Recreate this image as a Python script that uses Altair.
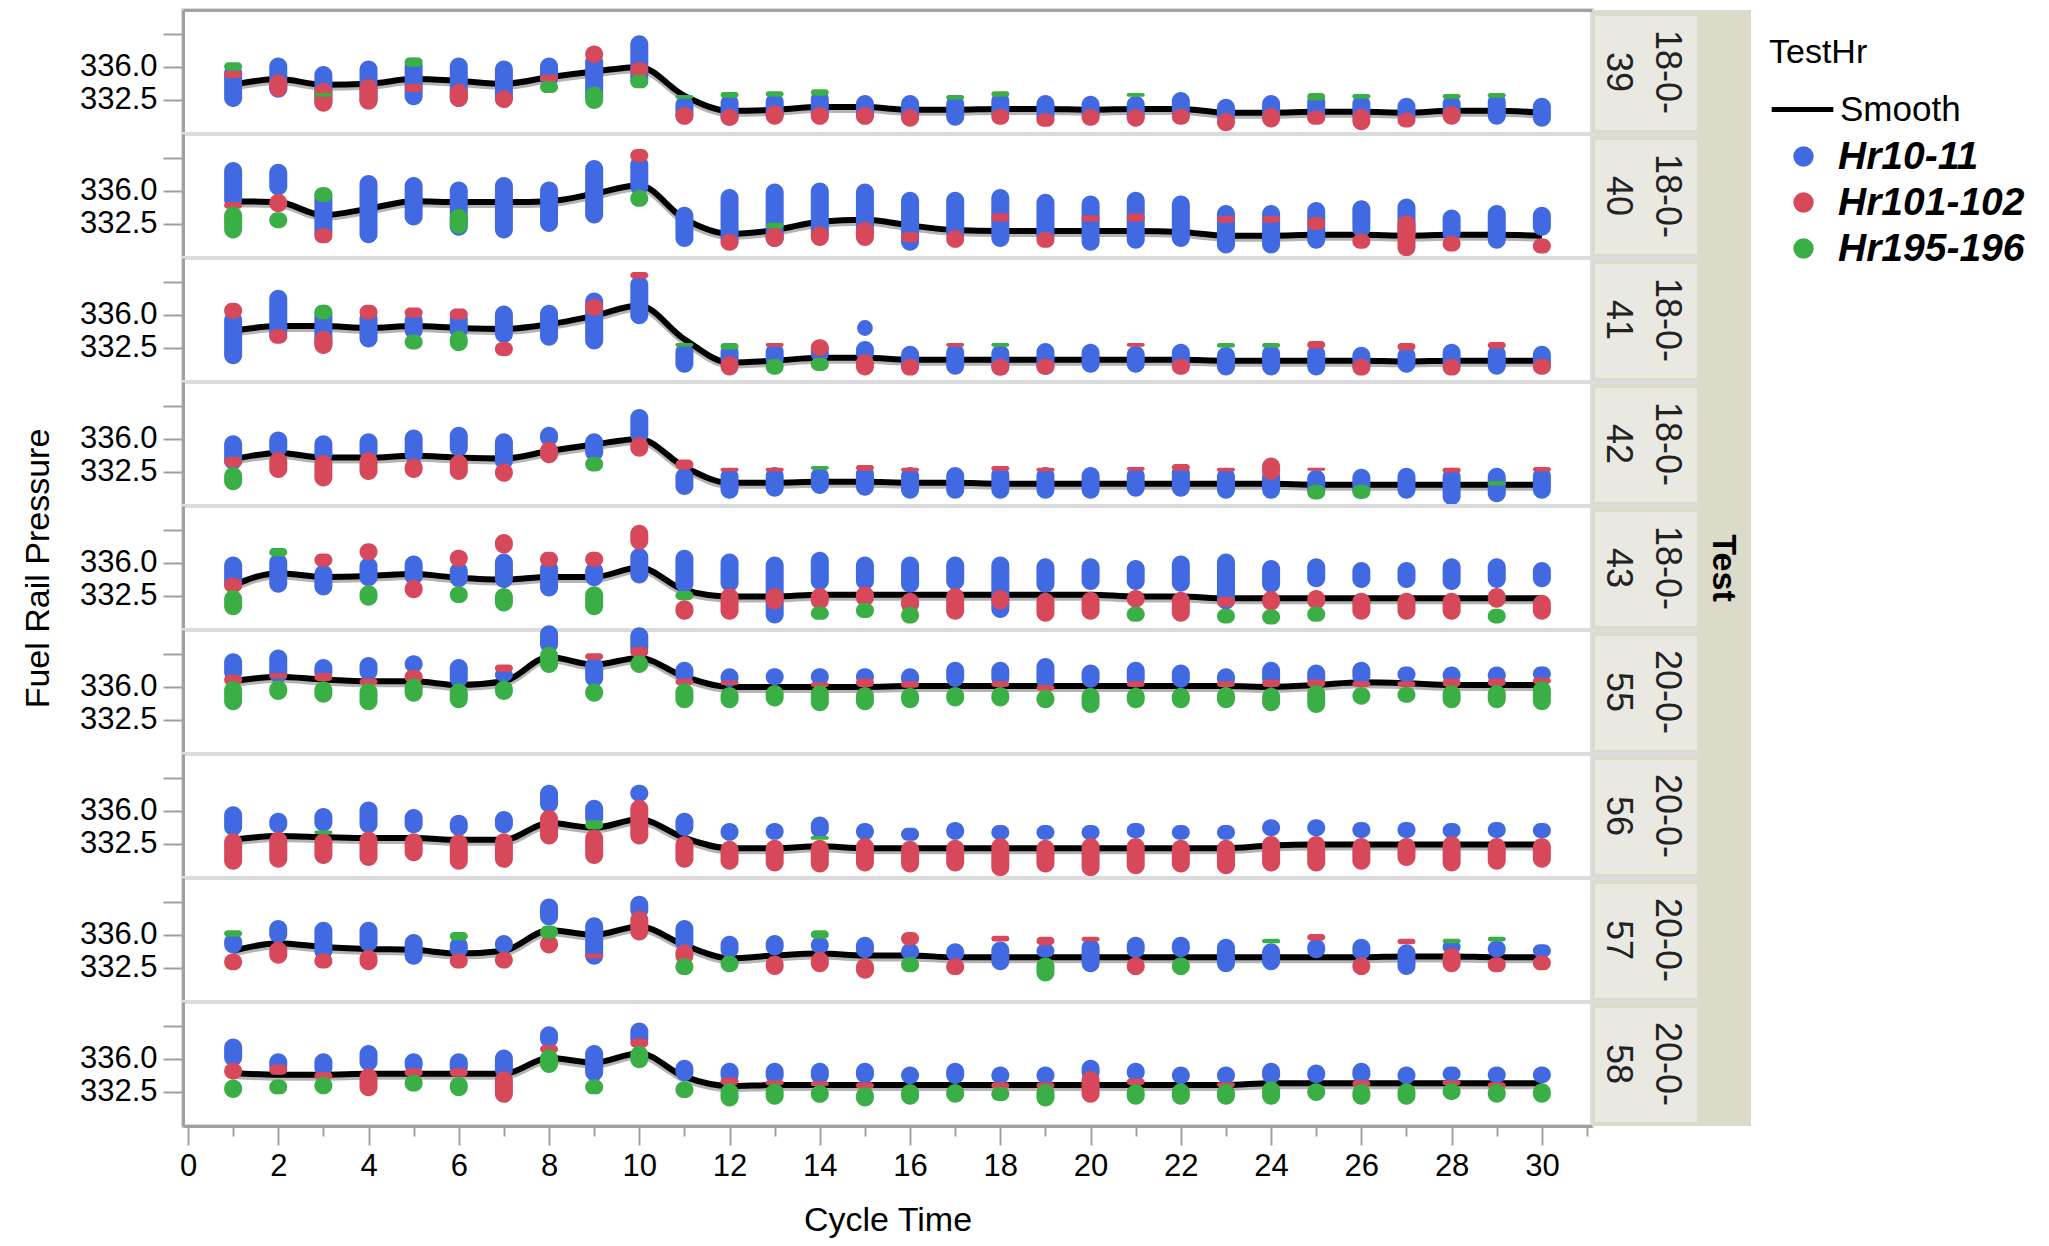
import altair as alt
import pandas as pd

FONT = "Liberation Sans"
GREY = "#A0A0A0"
SEP = "#DCDCDC"
DARK = "#DCDAC9"
LIGHT = "#E9E8E1"

TESTS = ["18-0-39", "18-0-40", "18-0-41", "18-0-42", "18-0-43",
         "20-0-55", "20-0-56", "20-0-57", "20-0-58"]
CYCLES = list(range(1, 31))
SERIES = ["Hr10-11", "Hr101-102", "Hr195-196"]
SERIES_COLORS = ["#4169E1", "#D6485A", "#3AAF45"]
X_TICKS = list(range(0, 32))
Y_TICKS = [332.5, 336.0, 339.5]

# ---------------- 18-0-39 ----------------
SMOOTH_39 = [334.1, 334.7, 334.1, 334.2, 334.7, 334.5, 334.2, 334.9, 335.5, 336.0,
             332.9, 331.3, 331.4, 331.7, 331.7, 331.4, 331.4, 331.5, 331.5, 331.4,
             331.5, 331.5, 331.1, 331.1, 331.2, 331.2, 331.1, 331.3, 331.3, 331.1]
BLUE_39 = [(331.7, 336.3), (332.7, 337.0), (331.3, 336.1), (331.5, 336.7), (331.9, 337.0),
           (331.7, 337.0), (331.7, 336.7), (333.8, 337.0), (332.0, 337.5), (333.8, 339.4),
           (329.9, 332.9), (329.7, 333.1), (329.9, 333.2), (329.9, 333.5), (329.9, 333.0),
           (329.7, 333.0), (329.7, 333.0), (330.1, 333.3), (329.7, 333.0), (329.9, 332.9),
           (329.8, 332.9), (330.1, 333.3), (329.8, 332.6), (329.7, 333.0), (329.9, 333.2),
           (329.9, 333.0), (329.8, 332.7), (329.9, 333.0), (329.8, 333.2), (329.6, 332.7)]
RED_39 = [(334.8, 335.6), (332.8, 335.2), (331.2, 334.3), (331.4, 334.7), (333.3, 334.2),
          (331.7, 334.2), (331.6, 333.5), (334.4, 335.2), (336.4, 338.3), (334.9, 336.5),
          (329.8, 331.7), (329.7, 331.5), (329.8, 331.9), (329.8, 331.7), (329.8, 331.7),
          (329.6, 331.5), None, (329.8, 331.5), (329.6, 331.0), (329.7, 331.5),
          (329.6, 331.5), (329.8, 331.5), (329.1, 331.1), (329.5, 331.6), (329.8, 331.3),
          (329.2, 331.5), (329.5, 331.1), (329.8, 331.8), None, None]
GREEN_39 = [(335.6, 336.5), None, (332.8, 333.2), None, (336.0, 337.0),
            None, None, (333.2, 334.5), (331.5, 333.9), (333.7, 335.2),
            (332.6, 333.0), (332.7, 333.3), (332.8, 333.4), (332.9, 333.6), None,
            None, (332.5, 333.0), (332.8, 333.4), None, None,
            (332.8, 333.2), None, None, None, (332.4, 333.2),
            (332.6, 333.1), None, (332.6, 333.1), (332.7, 333.2), None]

# ---------------- 18-0-40 ----------------
SMOOTH_40 = [334.9, 334.8, 333.4, 334.1, 334.9, 334.8, 334.8, 334.9, 335.7, 336.6,
             333.0, 331.4, 331.8, 332.7, 332.9, 332.3, 331.8, 331.7, 331.7, 331.7,
             331.7, 331.6, 331.2, 331.2, 331.3, 331.3, 331.2, 331.3, 331.3, 331.2]
BLUE_40 = [(334.1, 339.1), (335.5, 338.9), (330.5, 336.4), (330.4, 337.7), (332.3, 337.5),
           (331.2, 337.0), (330.9, 337.5), (331.6, 337.0), (332.5, 339.3), (335.5, 339.8),
           (330.0, 334.3), (329.8, 336.2), (330.0, 336.8), (330.4, 336.9), (330.4, 336.8),
           (329.6, 335.9), (330.5, 335.9), (330.0, 336.2), (330.2, 335.7), (329.6, 335.5),
           (329.8, 335.9), (330.0, 335.5), (329.3, 334.5), (329.3, 334.5), (329.8, 334.8),
           (331.0, 335.0), (330.5, 335.2), (330.5, 334.0), (329.8, 334.5), (331.2, 334.3)]
RED_40 = [(334.1, 334.8), (333.7, 335.7), (330.4, 332.0), None, None,
          None, None, None, None, (339.1, 340.5),
          None, (329.6, 331.4), (330.0, 332.1), (330.1, 332.2), (330.1, 332.7),
          (330.5, 331.6), (329.9, 331.8), (332.7, 333.6), (329.9, 331.6), (332.7, 333.4),
          (332.7, 333.6), None, (332.6, 333.3), (332.6, 333.3), (331.8, 333.2),
          (329.8, 331.4), (329.0, 333.4), (329.5, 331.2), None, (329.3, 330.9)]
GREEN_40 = [(330.9, 334.3), (332.0, 333.7), (334.8, 336.4), None, None,
            (331.4, 334.1), None, None, None, (334.3, 336.1),
            None, None, (332.0, 332.6), None, None,
            None, None, None, None, None,
            None, None, None, None, None,
            None, None, None, None, None]

# ---------------- 18-0-41 ----------------
SMOOTH_41 = [334.3, 334.8, 334.8, 334.6, 334.8, 334.6, 334.5, 335.0, 335.9, 337.0,
             333.4, 330.9, 331.1, 331.4, 331.4, 331.2, 331.2, 331.2, 331.2, 331.2,
             331.2, 331.2, 331.1, 331.1, 331.1, 331.1, 331.0, 331.1, 331.1, 331.1]
BLUE_41 = [(330.7, 336.4), (333.0, 338.7), (332.0, 337.1), (332.5, 336.6), (333.4, 336.4),
           (333.4, 336.5), (333.0, 337.0), (332.7, 337.1), (332.3, 338.4), (335.0, 340.2),
           (329.8, 333.0), (330.2, 333.0), (330.3, 333.0), (330.9, 333.2), (331.0, 333.2),
           (329.6, 332.7), (329.6, 332.9), (329.5, 332.8), (329.6, 333.0), (329.8, 332.9),
           (329.8, 332.7), (329.7, 332.9), (329.5, 332.6), (329.5, 332.8), (329.5, 332.8),
           (329.6, 332.6), (329.8, 332.6), (329.8, 332.9), (329.6, 332.8), (329.8, 332.7)]
RED_41 = [(335.6, 337.3), (332.9, 334.5), (331.8, 334.3), (335.5, 337.1), (335.7, 336.8),
          (335.5, 336.7), (331.6, 333.1), None, (335.9, 337.7), (339.9, 340.6),
          None, (329.5, 331.6), (332.6, 333.0), (331.6, 333.4), (329.5, 331.8),
          (329.5, 331.3), (332.6, 333.0), (329.5, 331.3), (329.6, 331.3), None,
          (332.6, 333.0), (329.6, 331.3), None, None, (332.4, 333.2),
          (329.5, 331.3), (332.2, 333.0), (329.5, 331.3), (332.4, 333.1), (329.6, 331.3)]
GREEN_41 = [None, None, (335.5, 337.1), None, (332.3, 333.9),
            (332.1, 334.3), None, None, None, None,
            (332.6, 333.0), (332.3, 333.0), (329.6, 331.3), (330.0, 331.4), None,
            None, None, (332.6, 333.0), None, None,
            None, None, (332.5, 333.0), (332.5, 333.0), None,
            None, None, None, None, None]

# ---------------- 18-0-42 ----------------
SMOOTH_42 = [333.8, 334.5, 334.0, 334.0, 334.2, 334.0, 333.9, 334.7, 335.4, 336.0,
             333.0, 331.3, 331.3, 331.4, 331.4, 331.3, 331.3, 331.2, 331.2, 331.2,
             331.2, 331.2, 331.2, 331.2, 331.1, 331.1, 331.1, 331.1, 331.1, 331.1]
BLUE_42 = [(332.7, 336.4), (334.1, 336.8), (333.4, 336.4), (333.7, 336.6), (333.4, 337.0),
           (334.1, 337.3), (332.7, 336.6), (335.2, 337.3), (333.6, 336.6), (335.5, 339.2),
           (330.0, 332.9), (329.6, 332.9), (329.8, 333.0), (330.1, 333.0), (329.9, 333.2),
           (329.6, 333.0), (329.6, 333.0), (329.6, 333.1), (329.6, 333.0), (329.6, 333.0),
           (329.8, 333.0), (329.8, 333.3), (329.6, 332.9), (329.6, 332.9), (329.6, 332.7),
           (329.6, 332.8), (329.6, 332.9), (328.9, 332.9), (329.2, 332.9), (329.6, 333.0)]
RED_42 = [(333.0, 334.1), (331.8, 334.6), (330.9, 334.3), (331.6, 334.6), (331.8, 333.9),
          (331.6, 334.3), (331.4, 333.4), (333.4, 335.7), None, (334.1, 336.2),
          (332.7, 333.8), (332.5, 332.9), (332.5, 332.9), None, (332.6, 333.2),
          (332.5, 332.9), None, (332.6, 333.1), (332.5, 332.9), None,
          (332.6, 333.0), (332.6, 333.3), (332.5, 332.9), (331.6, 334.0), (332.6, 332.9),
          None, None, (332.4, 332.9), None, (332.5, 333.0)]
GREEN_42 = [(330.5, 333.0), None, None, None, None,
            None, None, None, (332.5, 334.1), None,
            None, None, None, (332.7, 333.1), None,
            None, None, None, None, None,
            None, None, None, None, (329.5, 331.1),
            (329.6, 331.1), None, None, (331.0, 331.5), None]

# ---------------- 18-0-43 ----------------
SMOOTH_43 = [333.6, 334.9, 334.5, 334.6, 334.8, 334.4, 334.2, 334.5, 334.5, 335.5,
             333.1, 332.4, 332.4, 332.6, 332.6, 332.6, 332.6, 332.6, 332.6, 332.6,
             332.4, 332.4, 332.2, 332.2, 332.2, 332.2, 332.2, 332.2, 332.2, 332.2]
BLUE_43 = [(332.8, 336.7), (332.8, 337.0), (332.5, 335.8), (333.5, 336.6), (333.6, 336.8),
           (333.4, 336.1), (333.3, 337.0), (332.4, 336.3), (333.5, 336.1), (333.8, 337.6),
           (332.8, 337.4), (332.9, 337.0), (329.5, 336.7), (333.1, 337.2), (333.1, 336.7),
           (332.8, 336.7), (333.1, 336.7), (330.1, 336.7), (332.8, 336.5), (333.1, 336.5),
           (333.1, 336.3), (332.9, 336.8), (331.0, 337.0), (332.8, 336.3), (333.4, 336.5),
           (333.3, 336.1), (333.3, 336.1), (333.1, 336.5), (333.3, 336.5), (333.4, 336.1)]
RED_43 = [(332.8, 334.4), None, (335.6, 337.0), (336.3, 338.1), (332.2, 334.2),
          (335.6, 337.4), (337.0, 339.1), (335.6, 337.2), (335.6, 337.2), (337.4, 340.1),
          (329.9, 332.0), (329.9, 333.3), (331.0, 333.3), (331.0, 333.3), (331.3, 333.5),
          (330.6, 332.8), (329.9, 333.3), (331.0, 333.1), (329.7, 332.8), (329.9, 332.9),
          (331.2, 333.1), (329.7, 332.9), (331.3, 332.4), (330.9, 333.0), (331.0, 333.1),
          (329.9, 332.8), (329.9, 332.8), (329.9, 332.8), (331.2, 333.3), (329.9, 332.6)]
GREEN_43 = [(330.4, 333.1), (336.7, 337.6), None, (331.4, 333.6), None,
            (331.7, 333.5), (330.8, 333.3), None, (330.4, 333.5), None,
            (332.0, 333.0), None, None, (329.9, 331.3), (330.1, 331.7),
            (329.5, 331.3), None, None, None, None,
            (329.7, 331.3), None, (329.5, 331.1), (329.4, 331.0), (329.7, 331.3),
            None, None, None, (329.5, 331.1), None]

# ---------------- 20-0-55 ----------------
SMOOTH_55 = [336.6, 337.1, 336.8, 336.6, 336.6, 336.2, 336.6, 339.2, 338.4, 339.1,
             337.1, 336.0, 336.0, 336.0, 336.0, 336.1, 336.1, 336.1, 336.1, 336.1,
             336.1, 336.1, 336.1, 336.0, 336.2, 336.5, 336.4, 336.2, 336.2, 336.2]
BLUE_55 = [(336.6, 339.6), (336.4, 340.0), (336.6, 339.0), (336.7, 339.2), (337.5, 339.4),
           (335.9, 339.0), (336.6, 338.0), (339.6, 342.6), (336.0, 339.2), (339.2, 342.4),
           (336.4, 338.7), (336.0, 338.0), (336.2, 338.0), (336.2, 338.0), (336.2, 338.0),
           (335.9, 338.0), (336.0, 338.7), (336.0, 338.7), (335.7, 339.1), (335.9, 338.4),
           (335.9, 338.7), (335.9, 338.4), (335.9, 338.0), (335.9, 338.7), (335.9, 338.4),
           (336.2, 338.7), (336.5, 338.2), (336.3, 338.2), (336.3, 338.2), (336.6, 338.2)]
RED_55 = [(336.2, 337.3), (336.9, 337.5), (336.6, 337.5), (336.2, 336.9), (336.4, 337.8),
          None, (337.6, 338.4), None, (338.9, 339.6), (339.2, 340.3),
          (336.2, 336.9), (336.2, 336.7), None, (336.0, 336.5), (336.0, 336.9),
          (335.9, 336.6), None, (336.0, 336.6), (335.6, 336.2), None,
          (336.0, 336.6), None, (336.0, 336.6), (336.0, 336.8), (336.0, 336.8),
          (336.0, 336.6), (336.0, 336.6), (336.0, 336.9), (336.1, 336.9), (336.3, 337.0)]
GREEN_55 = [(333.5, 336.6), (334.6, 336.7), (334.3, 336.6), (333.5, 336.4), (334.4, 336.9),
            (333.7, 336.4), (334.6, 336.7), (337.5, 340.3), (334.4, 336.4), (337.5, 339.4),
            (333.7, 336.4), (333.7, 336.0), (333.9, 336.2), (333.4, 336.2), (333.5, 336.0),
            (333.7, 335.9), (333.9, 336.0), (333.9, 336.0), (333.7, 335.7), (333.2, 335.9),
            (333.7, 335.9), (333.7, 335.9), (333.7, 336.0), (333.4, 335.9), (333.2, 336.2),
            (334.1, 336.0), (334.3, 336.0), (333.7, 336.2), (333.7, 336.2), (333.5, 336.6)]

# ---------------- 20-0-56 ----------------
SMOOTH_56 = [332.9, 333.3, 333.2, 333.1, 333.1, 332.9, 332.9, 334.7, 334.2, 335.1,
             333.1, 332.0, 332.0, 332.2, 332.0, 332.0, 332.0, 332.0, 332.0, 332.0,
             332.0, 332.0, 332.0, 332.3, 332.4, 332.4, 332.4, 332.4, 332.4, 332.4]
BLUE_56 = [(333.3, 336.5), (333.6, 335.8), (333.8, 336.3), (333.6, 337.0), (333.6, 336.2),
           (333.3, 335.6), (333.6, 336.0), (335.8, 338.8), (334.3, 337.2), (337.0, 338.8),
           (333.3, 335.8), (332.8, 334.7), (332.9, 334.7), (333.1, 335.4), (332.9, 334.7),
           (332.8, 334.2), (332.9, 334.8), (332.9, 334.5), (332.9, 334.5), (332.9, 334.5),
           (333.1, 334.7), (332.9, 334.5), (332.9, 334.5), (333.3, 335.1), (333.3, 335.1),
           (333.1, 334.8), (333.1, 334.8), (333.1, 334.7), (333.1, 334.8), (333.1, 334.7)]
RED_56 = [(329.7, 333.6), (329.9, 333.8), (330.3, 333.6), (330.1, 333.8), (330.6, 333.6),
          (329.7, 333.5), (329.9, 333.6), (332.4, 336.1), (330.3, 334.0), (332.4, 337.2),
          (329.9, 333.3), (329.7, 332.8), (329.5, 332.9), (329.4, 332.9), (329.5, 333.1),
          (329.4, 332.8), (329.5, 332.9), (329.0, 333.1), (329.4, 332.9), (329.0, 333.1),
          (329.2, 333.1), (329.4, 332.9), (329.2, 332.9), (329.5, 333.3), (329.5, 333.3),
          (329.7, 333.1), (330.1, 333.1), (329.5, 333.3), (329.7, 333.1), (329.9, 333.1)]
GREEN_56 = [None, None, (333.5, 333.9), None, None,
            None, None, None, (334.0, 335.0), None,
            None, None, None, (332.9, 333.3), None,
            None, None, None, None, None,
            None, None, None, None, None,
            None, None, None, None, None]

# ---------------- 20-0-57 ----------------
SMOOTH_57 = [334.3, 335.1, 334.7, 334.5, 334.4, 334.0, 334.3, 336.5, 336.0, 336.9,
             334.9, 333.5, 333.8, 334.0, 333.8, 333.8, 333.6, 333.6, 333.6, 333.6,
             333.6, 333.6, 333.6, 333.6, 333.6, 333.6, 333.7, 333.7, 333.6, 333.6]
BLUE_57 = [(334.0, 336.2), (335.1, 337.6), (333.3, 337.4), (334.2, 337.4), (332.8, 336.1),
           (333.5, 335.8), (334.0, 336.0), (337.0, 339.9), (332.8, 337.9), (337.7, 340.2),
           (334.2, 337.6), (333.5, 335.9), (333.8, 336.0), (334.0, 335.8), (333.5, 335.8),
           (333.3, 335.1), (333.1, 335.1), (332.2, 335.3), (333.6, 335.0), (332.0, 335.6),
           (333.5, 335.8), (333.6, 335.8), (332.0, 335.6), (332.2, 335.1), (333.5, 335.6),
           (333.3, 335.6), (331.7, 335.0), (334.0, 335.4), (333.6, 335.4), (333.6, 335.0)]
RED_57 = [(332.2, 334.0), (332.9, 335.3), (332.4, 334.0), (332.2, 334.4), None,
          (332.4, 334.0), (332.4, 334.2), (334.0, 336.0), (333.5, 334.0), (335.4, 338.6),
          (332.8, 335.0), None, (331.7, 333.8), (332.0, 334.2), (331.3, 333.5),
          (334.9, 336.3), (331.7, 333.5), (335.3, 335.9), (334.9, 335.8), (335.3, 335.8),
          (331.7, 333.6), None, None, None, (335.4, 336.1),
          (331.7, 333.6), (335.0, 335.6), (332.0, 334.6), (332.0, 333.6), (332.2, 333.8)]
GREEN_57 = [(335.8, 336.5), None, None, None, None,
            (335.4, 336.3), None, (335.6, 337.0), None, None,
            (331.7, 333.5), (332.0, 333.8), None, (335.6, 336.5), None,
            (332.0, 333.6), None, None, (331.0, 333.6), None,
            None, (331.7, 333.6), None, (335.1, 335.6), None,
            None, None, (335.1, 335.6), (335.3, 335.8), None]

# ---------------- 20-0-58 ----------------
SMOOTH_58 = [334.5, 334.3, 334.3, 334.4, 334.4, 334.4, 334.4, 336.1, 335.6, 336.6,
             334.1, 333.1, 333.2, 333.2, 333.2, 333.2, 333.2, 333.2, 333.2, 333.2,
             333.2, 333.2, 333.2, 333.4, 333.4, 333.4, 333.4, 333.4, 333.4, 333.4]
BLUE_58 = [(335.2, 338.2), (334.3, 336.6), (334.1, 336.6), (334.7, 337.5), (334.4, 336.6),
           (334.1, 336.6), (333.9, 337.0), (337.2, 339.5), (333.6, 337.5), (337.2, 339.9),
           (333.6, 335.9), (333.3, 335.6), (333.3, 335.6), (333.3, 335.6), (333.4, 335.6),
           (333.3, 335.2), (333.3, 335.6), (333.3, 335.2), (333.3, 335.2), (333.6, 335.9),
           (333.6, 335.6), (333.3, 335.2), (333.3, 335.2), (333.3, 335.6), (333.4, 335.4),
           (333.4, 335.6), (333.3, 335.2), (333.6, 335.2), (333.4, 335.2), (333.4, 335.2)]
RED_58 = [(333.8, 335.6), (334.3, 335.4), (333.8, 334.6), (332.0, 335.0), (334.1, 335.0),
          (334.1, 335.0), (331.3, 334.7), (336.6, 337.5), None, (337.2, 338.2),
          None, (333.2, 334.0), (333.2, 333.7), (333.1, 333.6), (332.8, 333.5),
          None, None, (332.8, 333.5), (332.8, 333.5), (331.3, 334.7),
          (333.2, 333.9), None, (333.0, 333.5), None, None,
          (333.0, 333.7), None, (333.2, 333.7), (332.8, 333.5), None]
GREEN_58 = [(331.8, 333.8), (332.2, 333.8), (332.2, 334.1), None, (332.5, 334.3),
            (332.0, 334.1), None, (334.5, 337.0), (332.2, 333.8), (335.0, 337.4),
            (331.8, 333.6), (330.9, 333.4), (331.1, 333.4), (331.3, 333.2), (330.9, 333.0),
            (331.1, 333.3), (331.3, 333.3), (331.5, 333.0), (330.9, 333.3), None,
            (331.1, 333.3), (331.1, 333.4), (331.1, 333.3), (331.1, 333.6), (331.5, 333.4),
            (331.1, 333.3), (331.1, 333.4), (331.6, 333.4), (331.3, 333.3), (331.3, 333.4)]

# isolated single point
OUTLIER_TESTS = ["18-0-41"]
OUTLIER_CYCLES = [15]
OUTLIER_VALUES = [334.6]

SMOOTH = [SMOOTH_39, SMOOTH_40, SMOOTH_41, SMOOTH_42, SMOOTH_43,
          SMOOTH_55, SMOOTH_56, SMOOTH_57, SMOOTH_58]
RANGES = [(BLUE_39, RED_39, GREEN_39), (BLUE_40, RED_40, GREEN_40),
          (BLUE_41, RED_41, GREEN_41), (BLUE_42, RED_42, GREEN_42),
          (BLUE_43, RED_43, GREEN_43), (BLUE_55, RED_55, GREEN_55),
          (BLUE_56, RED_56, GREEN_56), (BLUE_57, RED_57, GREEN_57),
          (BLUE_58, RED_58, GREEN_58)]

blob_rows = []
line_rows = []
for t, sm, rg in zip(TESTS, SMOOTH, RANGES):
    for c, v in zip(CYCLES, sm):
        line_rows.append({"test": t, "cycle": c, "value": v, "label": "Smooth"})
    for s_name, s_ranges in zip(SERIES, rg):
        for c, r in zip(CYCLES, s_ranges):
            if r is None:
                continue
            blob_rows.append({"test": t, "cycle": c, "series": s_name, "lo": r[0], "hi": r[1]})
blobs = pd.DataFrame(blob_rows)
smooth = pd.DataFrame(line_rows)
outliers = pd.DataFrame({"test": OUTLIER_TESTS, "cycle": OUTLIER_CYCLES, "value": OUTLIER_VALUES})

PANEL_W = 1409
PANEL_H = 124
STRIP_W = 107
TEST_W = 52
Y_DOMAIN = [328.81, 342.1]
X_DOMAIN = [0, 31]
BLOB_W = 18

color_legend = alt.Legend(title="TestHr", orient="none", legendX=1586, legendY=26,
                          symbolType="stroke", symbolStrokeWidth=5, symbolSize=3800,
                          labelFontSize=35, titleFontSize=34, titleFontWeight="normal",
                          titlePadding=6, labelOffset=4, padding=0, labelLimit=400,
                          labelFont=FONT, titleFont=FONT, labelColor="#000000", titleColor="#000000")
fill_legend = alt.Legend(title=None, orient="none", legendX=1601, legendY=127,
                         symbolType="circle", symbolSize=415, symbolStrokeWidth=0,
                         labelFontSize=39, labelFontStyle="italic", labelFontWeight="bold",
                         rowPadding=6, labelOffset=15, padding=0, labelLimit=400,
                         labelFont=FONT, labelColor="#000000")


def make_panel(i, test):
    n = len(TESTS)
    if i == n - 1:
        x_axis = alt.Axis(values=X_TICKS,
                          labelExpr="datum.value % 2 === 0 ? datum.label : ''",
                          tickSize={"condition": {"test": "datum.value % 2 === 0", "value": 19}, "value": 10},
                          tickWidth=2, tickColor=GREY, domainColor=GREY, domainWidth=3,
                          labelFontSize=31, labelPadding=6, labelFlush=False,
                          title="Cycle Time", titleFontSize=34, titlePadding=22,
                          titleFontWeight="normal", grid=False)
    elif i == 0:
        x_axis = alt.Axis(orient="top", labels=False, ticks=False, title=None,
                          domainColor=GREY, domainWidth=3, grid=False)
    else:
        x_axis = None
    x_scale = alt.Scale(domain=X_DOMAIN, nice=False, zero=False)
    y_scale = alt.Scale(domain=Y_DOMAIN, nice=False, zero=False)
    y_title = "Fuel Rail Pressure" if i == 4 else None
    y_axis = alt.Axis(values=Y_TICKS, format=".1f",
                      labelExpr="datum.value > 339 ? '' : datum.label",
                      tickSize=20, tickWidth=2, tickColor=GREY,
                      domainColor=GREY, domainWidth=3,
                      labelFontSize=31, labelPadding=6, labelOffset=0,
                      minExtent=100, maxExtent=100,
                      title=y_title, titleFontSize=34, titlePadding=28,
                      titleFontWeight="normal", grid=False)
    xe = alt.X("cycle:Q", scale=x_scale, axis=x_axis, title="Cycle Time")
    flt = alt.datum.test == test

    def ye(field):
        return alt.Y(field, scale=y_scale, axis=y_axis, title=y_title)

    shadow = alt.Chart(smooth).transform_filter(flt).mark_line(
        interpolate="monotone", strokeWidth=8, color="#B4B4B4", yOffset=2
    ).encode(x=xe, y=ye("value:Q"))

    line = alt.Chart(smooth).transform_filter(flt).mark_line(
        interpolate="monotone", strokeWidth=6
    ).encode(
        x=xe,
        y=ye("value:Q"),
        color=alt.Color("label:N", scale=alt.Scale(domain=["Smooth"], range=["#000000"]),
                        legend=color_legend),
    )

    bars = alt.Chart(blobs).transform_filter(flt).mark_bar(
        width=BLOB_W, cornerRadius=BLOB_W / 2, clip=False
    ).encode(
        x=xe,
        y=ye("lo:Q"),
        y2="hi:Q",
        fill=alt.Fill("series:N", scale=alt.Scale(domain=SERIES, range=SERIES_COLORS),
                      legend=fill_legend),
    )

    dots = alt.Chart(outliers).transform_filter(flt).mark_circle(
        size=250, opacity=1, color=SERIES_COLORS[0]
    ).encode(x=xe, y=ye("value:Q"))

    return alt.layer(shadow, line, bars, dots).properties(
        width=PANEL_W, height=PANEL_H,
        view=alt.ViewBackground(fill="white", stroke=SEP, strokeWidth=4),
    )


def make_strip(i, test):
    head, tail = test.rsplit("-", 1)
    lab = pd.DataFrame({"label": [head + "-\n" + tail]})
    base = alt.Chart(lab)
    box = base.mark_rect(color=LIGHT).encode(
        x=alt.value(3), x2=alt.value(105), y=alt.value(6), y2=alt.value(PANEL_H - 4))
    layers = [box]
    if i > 0:
        layers.append(base.mark_rule(color=SEP, strokeWidth=4).encode(
            x=alt.value(0), x2=alt.value(STRIP_W), y=alt.value(0)))
    txt = base.mark_text(angle=90, lineBreak="\n", fontSize=36, lineHeight=49,
                         font=FONT, color="#222222", align="center", baseline="middle").encode(
        text="label:N", x=alt.value(75), y=alt.value(PANEL_H / 2))
    layers.append(txt)
    if i == 4:
        layers.append(base.mark_text(
            text="Test", angle=90, fontSize=34, fontWeight="bold", font=FONT,
            color="#000000", align="center", baseline="middle"
        ).encode(x=alt.value(STRIP_W + 24), y=alt.value(PANEL_H / 2)))
    return alt.layer(*layers).properties(
        width=STRIP_W + TEST_W, height=PANEL_H,
        view=alt.ViewBackground(fill=DARK, stroke=DARK, strokeWidth=0),
    )


cells = []
for i, t in enumerate(TESTS):
    cells.append(make_panel(i, t))
    cells.append(make_strip(i, t))

chart = alt.concat(*cells, columns=2, spacing=0, bounds="flush").properties(
    padding={"left": 11, "top": 0, "right": 5, "bottom": 5},
    background="white",
).configure_axis(
    labelFont=FONT, titleFont=FONT, labelColor="#000000", titleColor="#000000",
).configure_legend(
    labelFont=FONT, titleFont=FONT,
)

chart.save("out.html", embed_options={"renderer": "svg", "actions": False})
